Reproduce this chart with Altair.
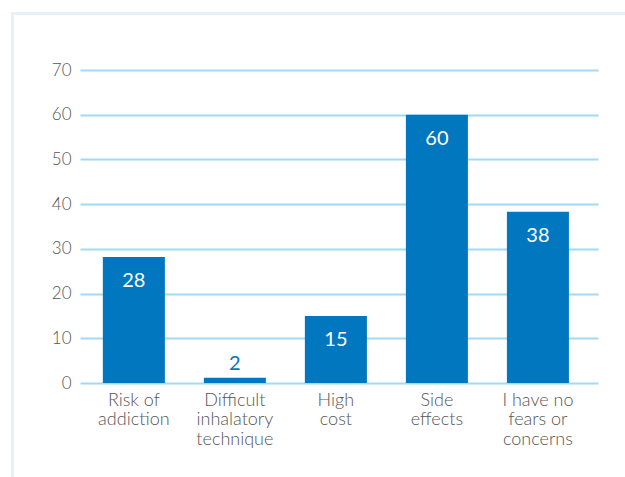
import altair as alt
import pandas as pd

categories = ["Risk of\naddiction", "Difficult\ninhalatory\ntechnique", "High\ncost", "Side\neffects", "I have no\nfears or\nconcerns"]
values = [28.2, 1.2, 15, 60, 38.3]
labels = ["28", "2", "15", "60", "38"]
y_ticks = [0, 10, 20, 30, 40, 50, 60, 70]

BAR = "#0077be"
GRID = "#a0daf3"
FRAME = "#e4f2f8"
TXT = "#555555"
FONT = "Lato"

df = pd.DataFrame({"cat": categories, "value": values, "label": labels})
frame_df = pd.DataFrame({"k": [0]})

W, H = 518, 313

xscale = alt.Scale(paddingInner=0.386, paddingOuter=0.257, align=0.44)
yscale = alt.Scale(domain=[0, 70], nice=False)
xaxis = alt.Axis(title=None, labelAngle=0, labelExpr="split(datum.value, '\\n')")
yaxis = alt.Axis(title=None, values=y_ticks, grid=True)

X = alt.X("cat:N", sort=categories, scale=xscale, axis=xaxis)
Y = alt.Y("value:Q", scale=yscale, axis=yaxis)

bars = alt.Chart(df).mark_bar(color=BAR).encode(x=X, y=Y)

inside = alt.Chart(df).transform_filter("datum.value >= 5").mark_text(
    color="white", font=FONT, fontSize=20, baseline="middle", dy=24
).encode(x=X, y=Y, text="label:N")

above = alt.Chart(df).transform_filter("datum.value < 5").mark_text(
    color=BAR, font=FONT, fontSize=20, baseline="middle", dy=-14
).encode(x=X, y=Y, text="label:N")

frame_left = alt.Chart(frame_df).mark_rule(color=FRAME, strokeWidth=3).encode(
    x=alt.value(-67.5), y=alt.value(-58), y2=alt.value(420))
frame_top = alt.Chart(frame_df).mark_rule(color=FRAME, strokeWidth=3).encode(
    x=alt.value(-69), x2=alt.value(560), y=alt.value(-56.5))

chart = alt.layer(frame_left, frame_top, bars, inside, above).properties(
    width=W, height=H,
    background="white",
    autosize=alt.AutoSizeParams(type="none"),
    padding={"left": 80, "top": 70, "right": 27, "bottom": 94},
).configure_view(stroke=None).configure_axis(
    domain=False, ticks=False, labelFont=FONT, labelColor=TXT,
    labelFontSize=17, labelPadding=9, labelFontWeight=300,
    gridColor=GRID, gridWidth=2, gridOpacity=1,
).configure_axisX(labelLineHeight=19.5, labelBaseline="top", grid=False,
                  labelFontSize=18, labelPadding=8)

chart.save("out.html", embed_options={"renderer": "svg", "actions": False})
